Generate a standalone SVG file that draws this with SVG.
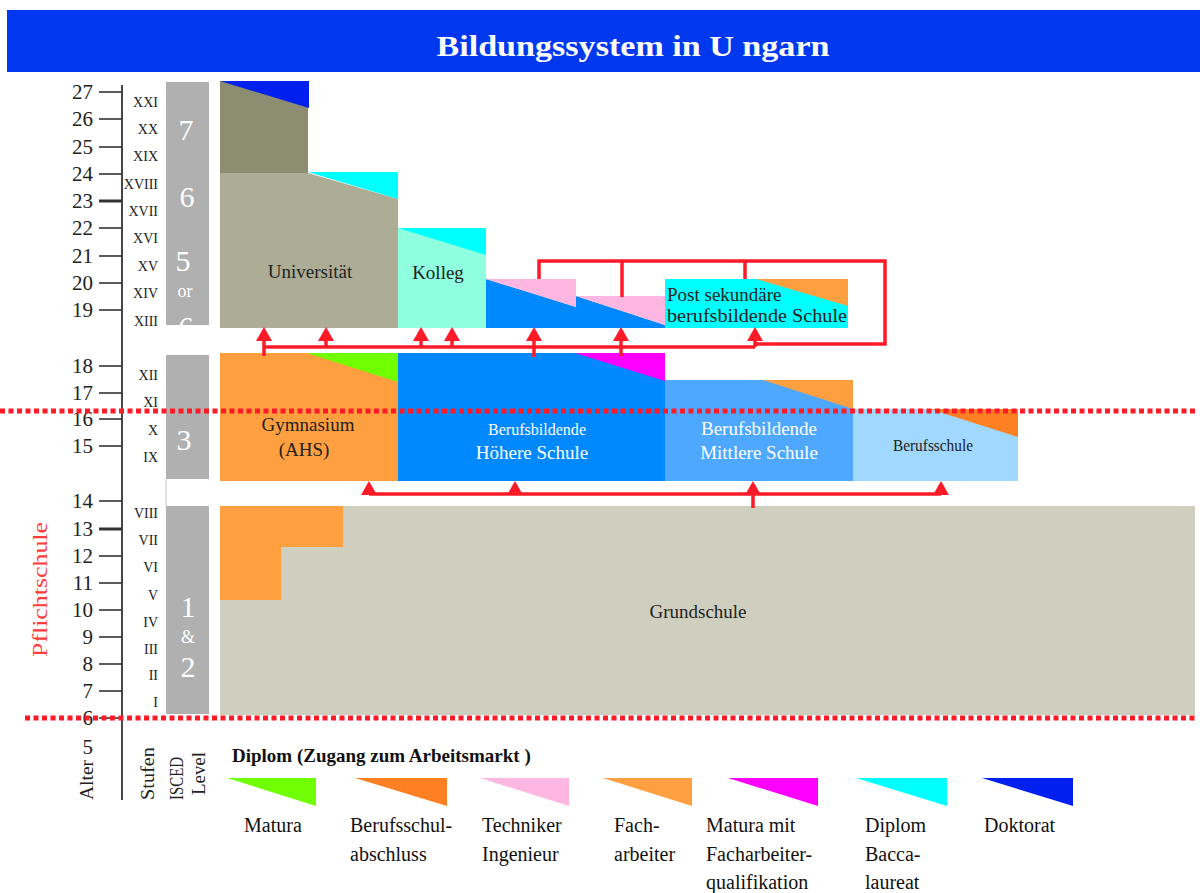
<svg xmlns="http://www.w3.org/2000/svg" width="1200" height="893" viewBox="0 0 1200 893">
<defs>
<style>
.age{font-family:"Liberation Serif","Times New Roman",serif;font-size:21px;fill:#222;text-anchor:end;}
.rom{font-family:"Liberation Serif","Times New Roman",serif;font-size:14px;fill:#222;text-anchor:end;}
.isc{font-family:"Liberation Serif","Times New Roman",serif;font-size:30px;fill:#fff;text-anchor:middle;}
.isc.sm{font-size:18px;}
.lbl{font-family:"Liberation Serif","Times New Roman",serif;font-size:19px;fill:#222;text-anchor:middle;}
.lbl.s15{font-size:16px;}
.lbl.s16{font-size:17px;}
.lbl.st{text-anchor:start;}
.wl{fill:#fff;}
.leg{font-family:"Liberation Serif","Times New Roman",serif;font-size:20px;fill:#111;}
.rot{font-family:"Liberation Serif","Times New Roman",serif;font-size:18px;fill:#222;}
.tick{stroke:#333;stroke-width:1.6;}
.red{stroke:#FF1A28;stroke-width:3.5;fill:none;}
.dot{stroke:#FF1A28;stroke-width:5;stroke-dasharray:5 3.5;fill:none;}
.isbar{fill:#B0B0B0;}
</style>
<marker id="ah" viewBox="0 0 14 16" refX="11" refY="8" markerWidth="14" markerHeight="16" markerUnits="userSpaceOnUse" orient="auto"><path d="M0,0 L14,8 L0,16 z" fill="#FF1A28"/></marker>
<clipPath id="c7"><rect x="166" y="82" width="43" height="243"/></clipPath>
</defs>
<rect width="1200" height="893" fill="#fff"/>

<g id="title">
<rect x="7" y="10" width="1193" height="62" fill="#0038F0"/>
<text x="633" y="56" font-family="'Liberation Serif','Times New Roman',serif" font-size="30" font-weight="bold" fill="#fff" text-anchor="middle" textLength="393" lengthAdjust="spacingAndGlyphs">Bildungssystem in U ngarn</text>
</g>

<g id="axis">
<line x1="122" y1="85" x2="122" y2="800" stroke="#333" stroke-width="1.8"/>
<g class="tick">
<line x1="99" y1="92" x2="122" y2="92"/>
<line x1="99" y1="119" x2="122" y2="119"/>
<line x1="99" y1="147" x2="122" y2="147"/>
<line x1="99" y1="174" x2="122" y2="174"/>
<line x1="99" y1="201" x2="122" y2="201" stroke-width="3"/>
<line x1="99" y1="228" x2="122" y2="228"/>
<line x1="99" y1="256" x2="122" y2="256"/>
<line x1="99" y1="283" x2="122" y2="283"/>
<line x1="99" y1="310" x2="122" y2="310"/>
<line x1="99" y1="366" x2="122" y2="366"/>
<line x1="99" y1="393" x2="122" y2="393"/>
<line x1="99" y1="419" x2="122" y2="419"/>
<line x1="99" y1="446" x2="122" y2="446"/>
<line x1="99" y1="501" x2="122" y2="501"/>
<line x1="99" y1="529" x2="122" y2="529" stroke-width="3"/>
<line x1="99" y1="556" x2="122" y2="556"/>
<line x1="99" y1="583" x2="122" y2="583"/>
<line x1="99" y1="610" x2="122" y2="610"/>
<line x1="99" y1="637" x2="122" y2="637"/>
<line x1="99" y1="664" x2="122" y2="664"/>
<line x1="99" y1="691" x2="122" y2="691"/>
<line x1="99" y1="718" x2="122" y2="718"/>
</g>
<g class="age">
<text x="93" y="99">27</text>
<text x="93" y="126">26</text>
<text x="93" y="154">25</text>
<text x="93" y="181">24</text>
<text x="93" y="208">23</text>
<text x="93" y="235">22</text>
<text x="93" y="263">21</text>
<text x="93" y="290">20</text>
<text x="93" y="317">19</text>
<text x="93" y="373">18</text>
<text x="93" y="400">17</text>
<text x="93" y="426">16</text>
<text x="93" y="453">15</text>
<text x="93" y="508">14</text>
<text x="93" y="536">13</text>
<text x="93" y="563">12</text>
<text x="93" y="590">11</text>
<text x="93" y="617">10</text>
<text x="93" y="644">9</text>
<text x="93" y="671">8</text>
<text x="93" y="698">7</text>
<text x="93" y="725">6</text>
<text x="93" y="754">5</text>
</g>
<g class="rom">
<text x="158" y="107">XXI</text>
<text x="158" y="134">XX</text>
<text x="158" y="161">XIX</text>
<text x="158" y="189">XVIII</text>
<text x="158" y="216">XVII</text>
<text x="158" y="243">XVI</text>
<text x="158" y="271">XV</text>
<text x="158" y="298">XIV</text>
<text x="158" y="326">XIII</text>
<text x="158" y="380">XII</text>
<text x="158" y="407">XI</text>
<text x="158" y="435">X</text>
<text x="158" y="462">IX</text>
<text x="158" y="518">VIII</text>
<text x="158" y="545">VII</text>
<text x="158" y="572">VI</text>
<text x="158" y="600">V</text>
<text x="158" y="627">IV</text>
<text x="158" y="654">III</text>
<text x="158" y="680">II</text>
<text x="158" y="707">I</text>
</g>
<text class="rot" transform="translate(93,800) rotate(-90)" textLength="40" lengthAdjust="spacingAndGlyphs">Alter</text>
<text class="rot" transform="translate(154,800) rotate(-90)" textLength="53" lengthAdjust="spacingAndGlyphs">Stufen</text>
<text class="rot" transform="translate(183,800) rotate(-90)" textLength="43" lengthAdjust="spacingAndGlyphs">ISCED</text>
<text class="rot" transform="translate(205,795) rotate(-90)" textLength="43" lengthAdjust="spacingAndGlyphs">Level</text>
<text transform="translate(47,657) rotate(-90)" font-family="'Liberation Serif','Times New Roman',serif" font-size="20" fill="#FF3B3B" textLength="135" lengthAdjust="spacingAndGlyphs">Pflichtschule</text>
</g>

<g id="isced">
<rect class="isbar" x="166" y="82" width="43" height="243"/>
<g clip-path="url(#c7)">
<text class="isc" x="186" y="140">7</text>
<text class="isc" x="187" y="207">6</text>
<text class="isc" x="183" y="271">5</text>
<text class="isc sm" x="185" y="297">or</text>
<text class="isc" x="186" y="337">6</text>
</g>
<rect class="isbar" x="166" y="355" width="43" height="124"/>
<text class="isc" x="184" y="450">3</text>
<line x1="166" y1="479" x2="166" y2="506" stroke="#D8D8D8" stroke-width="1.5"/>
<rect class="isbar" x="166" y="506" width="43" height="208"/>
<text class="isc" x="188" y="617">1</text>
<text class="isc sm" x="188" y="643">&amp;</text>
<text class="isc" x="188" y="677">2</text>
</g>

<g id="universitaet">
<rect x="220" y="81" width="88" height="92" fill="#8D8D71"/>
<polygon points="220,81 309,81 309,108" fill="#0020F0"/>
<polygon points="220,173 308,173 398,199 398,328 220,328" fill="#ADAD95"/>
<polygon points="308,172 398,172 398,199" fill="#00FFFF"/>
<text class="lbl" x="310" y="278">Universität</text>
</g>

<g id="kolleg">
<rect x="398" y="228" width="88" height="100" fill="#8FFFDF"/>
<polygon points="398,228 486,228 486,255" fill="#00FFFF"/>
<text class="lbl" x="438" y="279">Kolleg</text>
</g>

<g id="techniker">
<polygon points="486,279 576,307 576,296 665,325 665,328 486,328" fill="#0088FF"/>
<polygon points="486,279 576,279 576,307" fill="#FFB6E1"/>
<polygon points="576,296 665,296 665,325" fill="#FFB6E1"/>
</g>

<g id="postsek">
<rect x="665" y="279" width="183" height="49" fill="#00FFFF"/>
<polygon points="756,279 848,279 848,306" fill="#FF9F3F"/>
<text class="lbl st" x="667" y="301">Post sekundäre</text>
<text class="lbl st" x="667" y="322" textLength="180" lengthAdjust="spacingAndGlyphs">berufsbildende Schule</text>
</g>

<g id="gymnasium">
<rect x="220" y="353" width="178" height="128" fill="#FF9F3F"/>
<polygon points="307,353 398,353 398,382" fill="#70FF00"/>
<text class="lbl" x="308" y="431">Gymnasium</text>
<text class="lbl" x="304" y="456">(AHS)</text>
</g>

<g id="bhs">
<rect x="398" y="353" width="267" height="128" fill="#0088FF"/>
<polygon points="575,353 665,353 665,381" fill="#FF00FF"/>
<text class="lbl s16 wl" x="537" y="435" textLength="98" lengthAdjust="spacingAndGlyphs">Berufsbildende</text>
<text class="lbl wl" x="532" y="459">Höhere Schule</text>
</g>

<g id="bms">
<rect x="665" y="380" width="188" height="101" fill="#4FA8FF"/>
<polygon points="763,380 853,380 853,409" fill="#FF9F3F"/>
<text class="lbl wl" x="759" y="435">Berufsbildende</text>
<text class="lbl wl" x="759" y="459">Mittlere Schule</text>
</g>

<g id="berufsschule">
<rect x="853" y="409" width="165" height="72" fill="#A0D8FF"/>
<polygon points="930,409 1018,409 1018,437" fill="#FF8022"/>
<text class="lbl s15" x="933" y="451" textLength="80" lengthAdjust="spacingAndGlyphs">Berufsschule</text>
</g>

<g id="grundschule">
<rect x="220" y="506" width="975" height="209" fill="#CFCFBF"/>
<polygon points="220,506 343,506 343,547 281,547 281,600 220,600" fill="#FF9F3F"/>
<text class="lbl" x="698" y="618">Grundschule</text>
</g>

<g id="connectors">
<line class="red" x1="264" y1="347" x2="755" y2="347"/>
<polyline class="red" points="755,344 885,344 885,261 539,261 539,279"/>
<line class="red" x1="622" y1="261" x2="622" y2="297"/>
<line class="red" x1="745" y1="261" x2="745" y2="279"/>
<line class="red" x1="264" y1="356" x2="264" y2="330" marker-end="url(#ah)"/>
<line class="red" x1="326" y1="347" x2="326" y2="330" marker-end="url(#ah)"/>
<line class="red" x1="421" y1="347" x2="421" y2="330" marker-end="url(#ah)"/>
<line class="red" x1="452" y1="347" x2="452" y2="330" marker-end="url(#ah)"/>
<line class="red" x1="534" y1="357" x2="534" y2="330" marker-end="url(#ah)"/>
<line class="red" x1="621" y1="356" x2="621" y2="330" marker-end="url(#ah)"/>
<line class="red" x1="755" y1="347" x2="755" y2="330" marker-end="url(#ah)"/>
<line class="red" x1="369" y1="494" x2="941" y2="494"/>
<line class="red" x1="369" y1="494" x2="369" y2="484" marker-end="url(#ah)"/>
<line class="red" x1="515" y1="494" x2="515" y2="484" marker-end="url(#ah)"/>
<line class="red" x1="753" y1="508" x2="753" y2="484" marker-end="url(#ah)"/>
<line class="red" x1="941" y1="494" x2="941" y2="484" marker-end="url(#ah)"/>
<line class="dot" x1="0" y1="411" x2="1196" y2="411"/>
<line class="dot" x1="25" y1="718" x2="1196" y2="718"/>
</g>

<g id="legend">
<text x="232" y="762" font-family="'Liberation Serif','Times New Roman',serif" font-size="19" font-weight="bold" fill="#111">Diplom (Zugang zum Arbeitsmarkt )</text>
<polygon points="227,778 316,778 316,806" fill="#70FF00"/>
<polygon points="355,778 447,778 447,806" fill="#FF8022"/>
<polygon points="480,778 569,778 569,806" fill="#FFB6E1"/>
<polygon points="603,778 692,778 692,806" fill="#FF9F3F"/>
<polygon points="728,778 818,778 818,806" fill="#FF00FF"/>
<polygon points="856,778 947,778 947,806" fill="#00FFFF"/>
<polygon points="982,778 1073,778 1073,806" fill="#0020F0"/>
<g class="leg">
<text x="244" y="832">Matura</text>
<text x="350" y="832">Berufsschul-</text>
<text x="350" y="861">abschluss</text>
<text x="482" y="832">Techniker</text>
<text x="482" y="861">Ingenieur</text>
<text x="614" y="832">Fach-</text>
<text x="614" y="861">arbeiter</text>
<text x="706" y="832">Matura mit</text>
<text x="706" y="861">Facharbeiter-</text>
<text x="706" y="889">qualifikation</text>
<text x="865" y="832">Diplom</text>
<text x="865" y="861">Bacca-</text>
<text x="865" y="889">laureat</text>
<text x="984" y="832">Doktorat</text>
</g>
</g>
</svg>
